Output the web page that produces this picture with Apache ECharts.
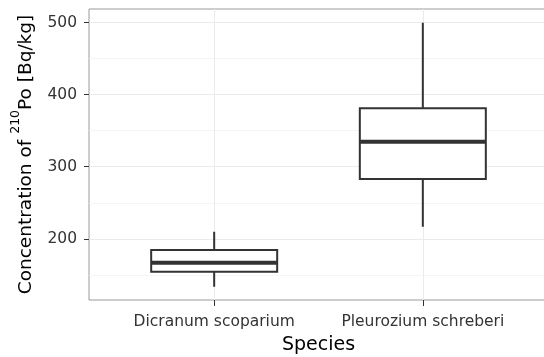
<!DOCTYPE html>
<html>
<head>
<meta charset="utf-8">
<script src="https://cdn.jsdelivr.net/npm/echarts@6/dist/echarts.min.js"></script>
<style>
html,body{margin:0;padding:0;background:#fff;}
#chart{width:544px;height:357px;}
</style>
</head>
<body>
<div id="chart"></div>
<script>
const categories = ['Dicranum scoparium', 'Pleurozium schreberi'];
const whiskerLow = [133.5, 216.8];
const q1 = [154.3, 283];
const median = [166.8, 334.8];
const q3 = [184.4, 381.1];
const whiskerHigh = [209.8, 500];
const yMajorTicks = [200, 300, 400, 500];
const yMinorTicks = [150, 250, 350, 450];

const FONT = 'DejaVu Sans';
const pos = categories.map((c, i) => i + 1);

const whiskerData = pos.map((x, i) => [x, whiskerLow[i], q1[i], median[i], q3[i], whiskerHigh[i]]);
const boxData = pos.map((x, i) => [x, q1[i], q1[i], median[i], q3[i], q3[i]]);
const medianData = pos.map((x, i) => [x, median[i], median[i], median[i], median[i], median[i]]);

const xMin = 0.4, xMax = categories.length + 0.6;
const yMin = 115, yMax = 519;
const BOX_PX = 126;

const chart = echarts.init(document.getElementById('chart'), null, {renderer: 'canvas'});

const hiddenX = () => ({
  type: 'value', gridIndex: 0, min: xMin, max: xMax, show: false,
  splitLine: {show: false}
});

chart.setOption({
  animation: false,
  backgroundColor: '#ffffff',
  grid: {
    left: 89, top: 9, width: 459, height: 291,
    show: true, borderColor: '#9a9a9a', borderWidth: 1,
    backgroundColor: 'transparent',
    outerBoundsMode: 'none'
  },
  xAxis: [
    {
      type: 'value', min: xMin, max: xMax,
      name: 'Species', nameLocation: 'middle', nameGap: 36,
      nameTextStyle: {fontFamily: FONT, fontSize: 19, color: '#000'},
      axisLine: {show: false},
      axisTick: {show: true, customValues: pos, length: 6, lineStyle: {color: '#333', width: 1}},
      axisLabel: {
        customValues: pos, margin: 14,
        fontFamily: FONT, fontSize: 15.5, color: '#333',
        formatter: (v) => categories[Math.round(v) - 1] || ''
      },
      splitLine: {show: true, lineStyle: {color: '#ebebeb', width: 1}}
    },
    hiddenX(),
    hiddenX()
  ],
  yAxis: [
    {
      type: 'value', min: yMin, max: yMax,
      name: '{t|Concentration of }{s|210}{t|Po [Bq/kg]}',
      nameLocation: 'middle', nameGap: 46,
      nameTextStyle: {
        rich: {
          t: {fontFamily: FONT, fontSize: 18.5, color: '#000', lineHeight: 34},
          s: {fontFamily: FONT, fontSize: 12.5, color: '#000', lineHeight: 13, verticalAlign: 'top'}
        }
      },
      axisLine: {show: false},
      axisTick: {show: true, customValues: yMajorTicks, length: 5, lineStyle: {color: '#333', width: 1}},
      axisLabel: {customValues: yMajorTicks, margin: 12, fontFamily: FONT, fontSize: 15.5, color: '#333'},
      splitLine: {show: true, lineStyle: {color: '#ebebeb', width: 1}}
    },
    {
      type: 'value', min: yMin, max: yMax,
      axisLine: {show: false},
      axisTick: {show: false, customValues: yMinorTicks},
      axisLabel: {show: false, customValues: yMinorTicks},
      splitLine: {show: true, lineStyle: {color: '#f4f4f4', width: 1}}
    }
  ],
  series: [
    {
      type: 'boxplot', xAxisIndex: 0, yAxisIndex: 0,
      boxWidth: [0, 0],
      itemStyle: {color: '#fff', borderColor: '#333', borderWidth: 2},
      emphasis: {disabled: true},
      data: whiskerData
    },
    {
      type: 'boxplot', xAxisIndex: 1, yAxisIndex: 0,
      boxWidth: [BOX_PX, BOX_PX],
      itemStyle: {color: '#fff', borderColor: '#333', borderWidth: 2},
      emphasis: {disabled: true},
      data: boxData
    },
    {
      type: 'boxplot', xAxisIndex: 2, yAxisIndex: 0,
      boxWidth: [BOX_PX, BOX_PX],
      itemStyle: {color: '#333', borderColor: '#333', borderWidth: 4},
      emphasis: {disabled: true},
      data: medianData
    }
  ]
});
</script>
</body>
</html>
